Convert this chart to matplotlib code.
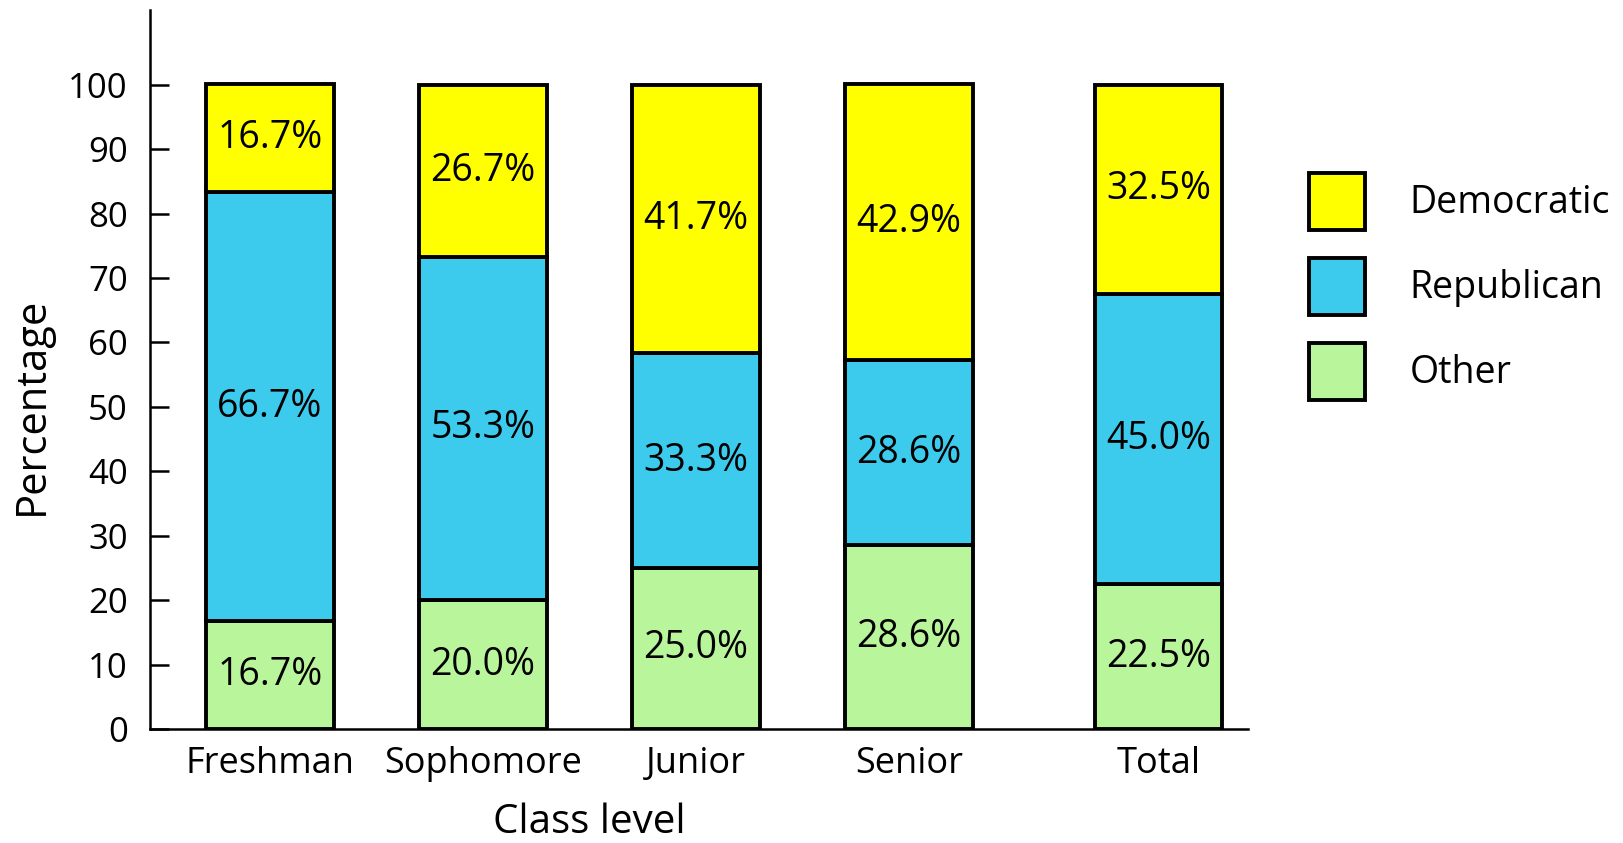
import matplotlib.pyplot as plt
import numpy as np

classes = ['Freshman', 'Sophomore', 'Junior', 'Senior', 'Total']
x_pos = [0, 1, 2, 3, 4.17]
other = [16.7, 20.0, 25.0, 28.6, 22.5]
republican = [66.7, 53.3, 33.3, 28.6, 45.0]
democratic = [16.7, 26.7, 41.7, 42.9, 32.5]
yticks = list(range(0, 101, 10))

series = [('Democratic', democratic, '#ffff00'),
          ('Republican', republican, '#3ccbed'),
          ('Other', other, '#b8f59b')]

plt.rcParams['font.family'] = ['Open Sans', 'DejaVu Sans']
fs = 25

fig = plt.figure(figsize=(16.23, 8.43), dpi=100)
ax = fig.add_axes([150/1623, 1 - 729/843, (1248-150)/1623, (729-10)/843])

bottom = np.zeros(len(classes))
handles = {}
# stack from the bottom: Other, Republican, Democratic
for name, vals, col in series[::-1]:
  vals = np.array(vals)
  b = ax.bar(x_pos, vals, width=0.6, bottom=bottom, color=col,
             edgecolor='black', linewidth=2.8, label=name)
  handles[name] = b
  for xi, v, b0 in zip(x_pos, vals, bottom):
    ax.text(xi, b0 + v / 2, f'{v:.1f}%', ha='center', va='center', fontsize=fs + 2)
  bottom = bottom + vals

ax.set_xlim(-0.563, 4.59)
ax.set_ylim(0, 111.6)
ax.set_yticks(yticks)
ax.set_xticks(x_pos)
ax.set_xticklabels(classes)
ax.tick_params(axis='x', length=0, pad=12, labelsize=fs + 1)
ax.tick_params(axis='y', direction='in', length=14, width=1.8, pad=16, labelsize=fs)
for s in ['top', 'right']:
  ax.spines[s].set_visible(False)
for s in ['left', 'bottom']:
  ax.spines[s].set_linewidth(1.8)

ax.set_xlabel('Class level', fontsize=29, va='baseline')
ax.xaxis.set_label_coords(0.40, -0.145)
ax.set_ylabel('Percentage', fontsize=30, va='center')
ax.yaxis.set_label_coords(-0.108, 0.45)

# legend boxes ~56x57 px, rows 85 px apart
lfs = fs + 2
fontsize_px = lfs * 100 / 72
hh = (57 / fontsize_px - 0.245) / 0.65
leg = ax.legend([handles[n] for n, _, _ in series], [n for n, _, _ in series],
                loc='upper left', bbox_to_anchor=(1290/1623, 1 - 154/843),
                bbox_transform=fig.transFigure, frameon=False, fontsize=lfs,
                borderpad=0, handlelength=56/fontsize_px, handleheight=hh,
                labelspacing=28/fontsize_px,
                handletextpad=(1408-1363)/fontsize_px)

fig.savefig('out.png', dpi=100)
